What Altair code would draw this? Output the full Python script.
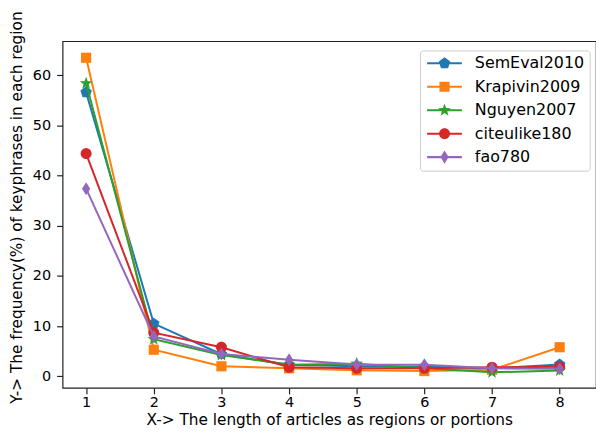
import math
import altair as alt
import pandas as pd

# ---------------- data ----------------
x_values = [1, 2, 3, 4, 5, 6, 7, 8]
series_names = ["SemEval2010", "Krapivin2009", "Nguyen2007", "citeulike180", "fao780"]
semeval2010 = [56.6, 10.5, 4.4, 2.3, 2.0, 1.9, 1.6, 2.35]
krapivin2009 = [63.5, 5.3, 2.0, 1.6, 1.2, 1.05, 1.3, 5.8]
nguyen2007 = [58.4, 7.4, 4.25, 2.3, 2.5, 1.6, 0.8, 1.15]
citeulike180 = [44.4, 8.7, 5.8, 1.8, 1.6, 1.6, 1.8, 1.9]
fao780 = [37.4, 7.95, 4.45, 3.3, 2.35, 2.3, 1.6, 1.5]
series_values = [semeval2010, krapivin2009, nguyen2007, citeulike180, fao780]
colors = ["#1f77b4", "#ff7f0e", "#2ca02c", "#d62728", "#9467bd"]
y_ticks = [0, 10, 20, 30, 40, 50, 60]

rows = []
for name, vals in zip(series_names, series_values):
    for xv, yv in zip(x_values, vals):
        rows.append({"x": xv, "y": yv, "series": name})
df = pd.DataFrame(rows)

# ---------------- marker shapes (custom SVG paths, clockwise) ----------------
def poly(pts, sx=1.0, cx=0.0):
    return "M" + "L".join(f"{cx + px * sx:.3f},{py * sx:.3f}" for px, py in pts) + "Z"

def regular(n, r):
    return [(r * math.sin(2 * math.pi * k / n), -r * math.cos(2 * math.pi * k / n)) for k in range(n)]

def star(ro, ri):
    pts = []
    for k in range(10):
        r = ro if k % 2 == 0 else ri
        a = math.pi * k / 5
        pts.append((r * math.sin(a), -r * math.cos(a)))
    return pts

marker_pts = [
    regular(5, 1.1),                                      # pentagon
    [(-0.93, -0.93), (0.93, -0.93), (0.93, 0.93), (-0.93, 0.93)],  # square
    star(1.22, 0.5),                                      # star
    regular(36, 1.0),                                     # circle
    [(0, -1.2), (0.75, 0), (0, 1.2), (-0.75, 0)],         # thin diamond
]
chart_shapes = [poly(p) for p in marker_pts]

# legend symbols: line + marker; unit = 6 px (size 144), marker shifted right
lg_scale = 5.5 / 6.0
lg_cx = 1.97
line_rect = f"M{-0.95:.3f},-0.17H4.880V0.17H{-0.95:.3f}Z"
legend_shapes = [line_rect + poly(p, lg_scale, lg_cx) for p in marker_pts]

FONT = "DejaVu Sans"

x_scale = alt.Scale(domain=[0.652, 8.537], nice=False, zero=False)
y_scale = alt.Scale(domain=[-2.3, 66.8], nice=False, zero=False)

x_enc = alt.X("x:Q", scale=x_scale,
              axis=alt.Axis(values=x_values, title="X-> The length of articles as regions or portions",
                            format="d", titlePadding=3, labelPadding=2))
y_enc = alt.Y("y:Q", scale=y_scale,
              axis=alt.Axis(values=y_ticks, title="Y-> The frequency(%) of keyphrases in each region",
                            format="d", titlePadding=8, labelPadding=6, titleY=167))

def color_enc(legend=None):
    if legend is None:
        return alt.Color("series:N", scale=alt.Scale(domain=series_names, range=colors), legend=None)
    return alt.Color("series:N", scale=alt.Scale(domain=series_names, range=colors), legend=legend)

layers = []
for i, name in enumerate(series_names):
    base = alt.Chart(df).transform_filter(alt.datum.series == name)
    line = base.mark_line(strokeWidth=2, opacity=1).encode(x=x_enc, y=y_enc, color=color_enc())
    pts = base.mark_point(filled=True, size=121, opacity=1, strokeWidth=0).encode(
        x=x_enc, y=y_enc, color=color_enc(),
        shape=alt.Shape("series:N", scale=alt.Scale(domain=series_names, range=chart_shapes), legend=None),
    )
    layers += [line, pts]

legend = alt.Legend(
    title=None, orient="none", legendX=359.7, legendY=9.3,
    labelFont=FONT, labelFontSize=16, labelColor="#000000", labelOffset=34.3,
    padding=5, rowPadding=7.6, symbolStrokeWidth=0, symbolSize=144,
    strokeColor="#cccccc", fillColor="#ffffff", cornerRadius=3,
)
legend_layer = alt.Chart(df).transform_filter("false").mark_point(
    filled=True, size=144, opacity=1, strokeWidth=0
).encode(
    x=x_enc, y=y_enc,
    color=color_enc(legend),
    shape=alt.Shape("series:N", scale=alt.Scale(domain=series_names, range=legend_shapes), legend=legend),
)
layers.append(legend_layer)

chart = alt.layer(*layers).resolve_scale(
    color="independent", shape="independent"
).properties(
    width=537, height=349,
    autosize=alt.AutoSizeParams(type="none"),
    padding={"left": 63, "top": 40, "right": 0, "bottom": 50},
    background="white",
).configure_view(
    stroke="#222222", strokeWidth=1.2
).configure_axis(
    domain=False, grid=False, tickSize=6, tickColor="#222222", tickWidth=1.2,
    labelFont=FONT, labelFontSize=14.5, labelColor="#000000",
    titleFont=FONT, titleFontSize=15.4, titleColor="#000000", titleFontWeight="normal",
)

chart.save("out.html", embed_options={"renderer": "svg", "actions": False})
